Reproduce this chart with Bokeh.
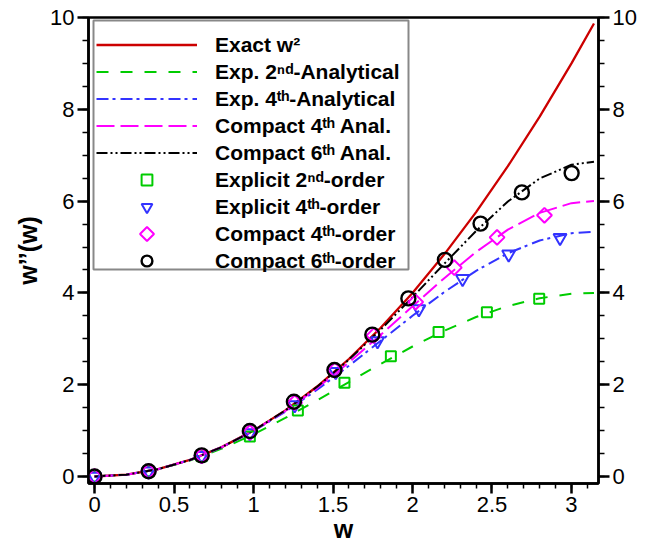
from bokeh.plotting import figure
from bokeh.models import (LinearAxis, SingleIntervalTicker, NumeralTickFormatter,
                          Range1d, Legend, LegendItem, BoxAnnotation, PolyAnnotation)
from bokeh.embed import file_html
from bokeh.resources import INLINE

# ---------------- data ----------------
w_curve = [0.0, 0.2, 0.4, 0.6, 0.8, 1.0, 1.2, 1.4, 1.6, 1.8, 2.0,
           2.2, 2.4, 2.6, 2.8, 3.0, 3.1416]
exact_w2 = [0.0, 0.04, 0.16, 0.36, 0.64, 1.0, 1.44, 1.96, 2.56, 3.24, 4.0,
            4.84, 5.76, 6.76, 7.84, 9.0, 9.8696]
exp2_anal = [0.0, 0.0399, 0.1579, 0.3493, 0.6066, 0.9194, 1.2753, 1.6601, 2.0584,
             2.4544, 2.8323, 3.1770, 3.4748, 3.7138, 3.8844, 3.9800, 4.0]
exp4_anal = [0.0, 0.0400, 0.1600, 0.3595, 0.6372, 0.9898, 1.4108, 1.8897, 2.4115,
             2.9564, 3.5008, 4.0181, 4.4810, 4.8631, 5.1419, 5.3000, 5.3333]
comp4_anal = [0.0, 0.0400, 0.1600, 0.3598, 0.6389, 0.9957, 1.4269, 1.9266, 2.4846,
              3.0855, 3.7073, 4.3210, 4.8911, 5.3782, 5.7437, 5.9551, 6.0]
comp6_anal = [0.0, 0.0400, 0.1600, 0.3600, 0.6399, 0.9997, 1.4386, 1.9550, 2.5450,
              3.2006, 3.9064, 4.6363, 5.3496, 5.9905, 6.4928, 6.7925, 6.8571]

exp2_x = [0.0, 0.34, 0.674, 0.977, 1.279, 1.572, 1.864, 2.164, 2.468, 2.797]
exp2_y = [0.0, 0.115, 0.44, 0.87, 1.44, 2.04, 2.62, 3.15, 3.58, 3.87]
exp4_x = [0.0, 0.34, 0.674, 0.977, 1.259, 1.517, 1.78, 2.04, 2.315, 2.605, 2.928]
exp4_y = [0.0, 0.115, 0.45, 0.95, 1.56, 2.28, 2.95, 3.65, 4.31, 4.84, 5.20]
comp4_x = [0.0, 0.34, 0.674, 0.977, 1.259, 1.512, 1.757, 2.02, 2.263, 2.532, 2.83]
comp4_y = [0.0, 0.115, 0.45, 0.96, 1.61, 2.32, 3.07, 3.80, 4.55, 5.21, 5.69]
comp6_x = [0.0, 0.34, 0.674, 0.977, 1.254, 1.509, 1.747, 1.974, 2.204, 2.428, 2.688, 3.001]
comp6_y = [0.0, 0.115, 0.46, 0.99, 1.63, 2.32, 3.09, 3.88, 4.72, 5.51, 6.19, 6.61]

labels = ["Exact w\u00b2",
          "Exp. 2\u207f\u1d48-Analytical",
          "Exp. 4\u1d57\u02b0-Analytical",
          "Compact 4\u1d57\u02b0 Anal.",
          "Compact 6\u1d57\u02b0 Anal.",
          "Explicit 2\u207f\u1d48-order",
          "Explicit 4\u1d57\u02b0-order",
          "Compact 4\u1d57\u02b0-order",
          "Compact 6\u1d57\u02b0-order"]
x_ticks_interval = 0.5
y_ticks_interval = 2

RED, GREEN, BLUE, MAGENTA, BLACK = "#CC0000", "#00CC00", "#3333FF", "#FF00FF", "#000000"
FONT = "Liberation Sans"

# ---------------- figure ----------------
p = figure(width=650, height=545, output_backend="svg", toolbar_location=None,
           x_range=Range1d(-0.038, 3.17), y_range=Range1d(-0.1525, 10.0),
           min_border_left=88, min_border_right=52, min_border_top=17,
           min_border_bottom=62, x_axis_label="w", y_axis_label="w\u2019\u2019(w)")
p.xgrid.visible = False
p.ygrid.visible = False
p.outline_line_color = "black"
p.outline_line_width = 2.5
p.outline_line_alpha = 1.0
p.background_fill_color = "white"
p.border_fill_color = "white"

xt = SingleIntervalTicker(interval=x_ticks_interval, num_minor_ticks=5)
yt = SingleIntervalTicker(interval=y_ticks_interval, num_minor_ticks=4)
p.xaxis.ticker = xt
p.yaxis.ticker = yt
right = LinearAxis(ticker=yt)
p.add_layout(right, "right")

for ax in [p.xaxis[0], p.yaxis[0], right]:
    ax.formatter = NumeralTickFormatter(format="0.[0]")
    ax.axis_line_width = 2.5
    ax.axis_line_color = "black"
    ax.major_tick_line_width = 2.5
    ax.minor_tick_line_width = 1.5
    ax.major_tick_line_color = "black"
    ax.minor_tick_line_color = "black"
    ax.major_tick_in = 0
    ax.minor_tick_in = 0
    ax.major_tick_out = 11
    ax.minor_tick_out = 6
    ax.major_label_text_font = FONT
    ax.major_label_text_font_size = "22px"
    ax.major_label_text_color = "black"
    ax.major_label_standoff = 3
    ax.axis_label_text_font = FONT
    ax.axis_label_text_font_style = "bold"
    ax.axis_label_text_font_size = "25px"
    ax.axis_label_text_color = "black"
p.xaxis.axis_label_standoff = 0
p.yaxis.axis_label_standoff = 5
p.xaxis.major_tick_out = 10
p.xaxis.minor_tick_out = 5

# ---------------- curves ----------------
r_ex = p.line(w_curve, exact_w2, line_color=RED, line_width=2.3)
r_e2 = p.line(w_curve, exp2_anal, line_color=GREEN, line_width=2, line_dash="12 12")
r_e4 = p.line(w_curve, exp4_anal, line_color=BLUE, line_width=2, line_dash="12 4 3 5")
r_c4 = p.line(w_curve, comp4_anal, line_color=MAGENTA, line_width=2, line_dash="18 6")
r_c6 = p.line(w_curve, comp6_anal, line_color=BLACK, line_width=2, line_dash="11 3 2 3 2 3")

# ---------------- markers ----------------
m_e2 = p.scatter(exp2_x, exp2_y, marker="square", size=10, line_color=GREEN,
                 fill_color=None, line_width=2)
m_e4 = p.scatter(exp4_x, exp4_y, marker="inverted_triangle", size=13, line_color=BLUE,
                 fill_color=None, line_width=2)
m_c4 = p.scatter(comp4_x, comp4_y, marker="square", angle=0.7854, size=10.5,
                 line_color=MAGENTA, fill_color=None, line_width=2)
m_c6 = p.scatter(comp6_x, comp6_y, marker="circle", size=14, line_color=BLACK,
                 fill_color=None, line_width=2.4)

# legend-only stand-in for the (rotated) diamond symbol
m_c4_key = p.scatter([], [], marker="square", size=10, line_alpha=0, fill_alpha=0)

# ---------------- legend ----------------
box = BoxAnnotation(left=93, right=408, top=20, bottom=269,
                    left_units="canvas", right_units="canvas",
                    top_units="canvas", bottom_units="canvas",
                    fill_color="white", fill_alpha=1.0,
                    line_color="#888888", line_width=2, line_alpha=1.0)
p.add_layout(box)

rends = [r_ex, r_e2, r_e4, r_c4, r_c6, m_e2, m_e4, m_c4_key, m_c6]
legend = Legend(items=[LegendItem(label=l, renderers=[r]) for l, r in zip(labels, rends)],
                location=(4, 205), padding=4, margin=0, spacing=0,
                glyph_width=101, glyph_height=27, label_height=27,
                label_standoff=18, label_text_font=FONT,
                label_text_font_style="bold", label_text_font_size="21px",
                label_text_color="black",
                border_line_alpha=0.0, background_fill_alpha=0.0)
p.add_layout(legend)

# diamond key symbol, centred on the "Compact 4th-order" legend row
key_cx, key_cy, key_r = 146.5, 233.5, 7
p.add_layout(PolyAnnotation(xs=[key_cx, key_cx + key_r, key_cx, key_cx - key_r],
                            ys=[key_cy - key_r, key_cy, key_cy + key_r, key_cy],
                            xs_units="canvas", ys_units="canvas",
                            fill_alpha=0.0, line_color=MAGENTA, line_width=2,
                            line_alpha=1.0))

open("out.html", "w").write(file_html(p, INLINE))
